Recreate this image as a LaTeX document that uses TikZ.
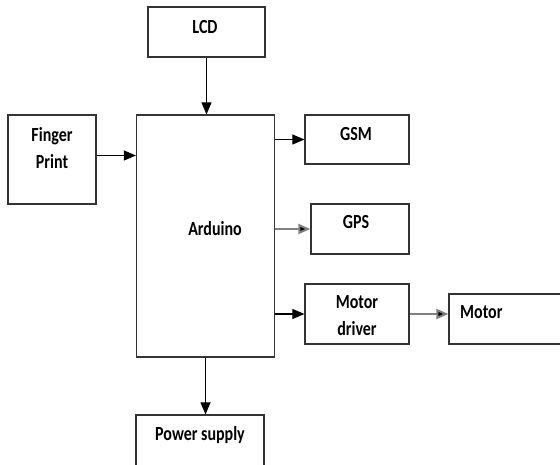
\documentclass[tikz,border=0pt]{standalone}
\usepackage{fontspec}
\newfontfamily\lblfont[FakeStretch=0.8]{Carlito}
\usepackage{tikz}
\usetikzlibrary{positioning, arrows.meta, calc}

\begin{document}
\begin{tikzpicture}[x=1pt, y=-1pt,
		blk/.style={draw=black!80, line width=1.2pt, inner sep=0pt},
		txt/.style={font=\lblfont\fontsize{20}{27}\selectfont\bfseries, align=center, inner sep=0pt},
		arr/.style={-{Triangle[length=12pt,width=10pt]}, line width=1.1pt},
		garr/.style={arr, draw=black!50, line width=2pt, -{Triangle[length=12pt,width=10pt,fill=black]}}]
	\useasboundingbox (0,0) rectangle (560,465);

	% boxes
	\node[blk, minimum width=117, minimum height=50] (lcd) at (206.5,32) {};
	\node[blk, minimum width=88, minimum height=89] (fp) at (52,159.5) {};
	\node[blk, minimum width=138, minimum height=242] (ard) at (205.5,236) {};
	\node[blk, minimum width=104, minimum height=49] (gsm) at (357,139.5) {};
	\node[blk, minimum width=98, minimum height=50] (gps) at (360,229) {};
	\node[blk, minimum width=104, minimum height=60] (drv) at (357,314) {};
	\node[blk, minimum width=130, minimum height=50] (mot) at (514,319) {};
	\node[blk, minimum width=128, minimum height=60] (ps) at (200,445) {};

	% labels
	\node[txt] (lcdtxt) at (205,27) {LCD};
	\node[txt] (fptxt) at (52,148) {Finger\\Print};
	\node[txt] (ardtxt) at (215,229) {Arduino};
	\node[txt] (gsmtxt) at (356,134) {GSM};
	\node[txt] (gpstxt) at (356,222) {GPS};
	\node[txt] (drvtxt) at (357,316) {Motor\\driver};
	\node[txt, anchor=west] (mottxt) at (460,312) {Motor};
	\node[txt] (pstxt) at (200,435) {Power supply};

	% connections
	\draw[arr] (lcd.south) -- (lcd.south |- ard.north);
	\draw[arr] ([yshift=4]fp.east) -- ([yshift=4]fp.east -| ard.west);
	\draw[arr] (gsm.west -| ard.east) -- (gsm.west);
	\draw[garr] (gps.west -| ard.east) -- (gps.west);
	\draw[arr] (drv.west -| ard.east) -- (drv.west);
	\draw[garr] (drv.east) -- (drv.east -| mot.west);
	\draw[arr] (ard.south) -- (ard.south |- ps.north);
\end{tikzpicture}
\end{document}
